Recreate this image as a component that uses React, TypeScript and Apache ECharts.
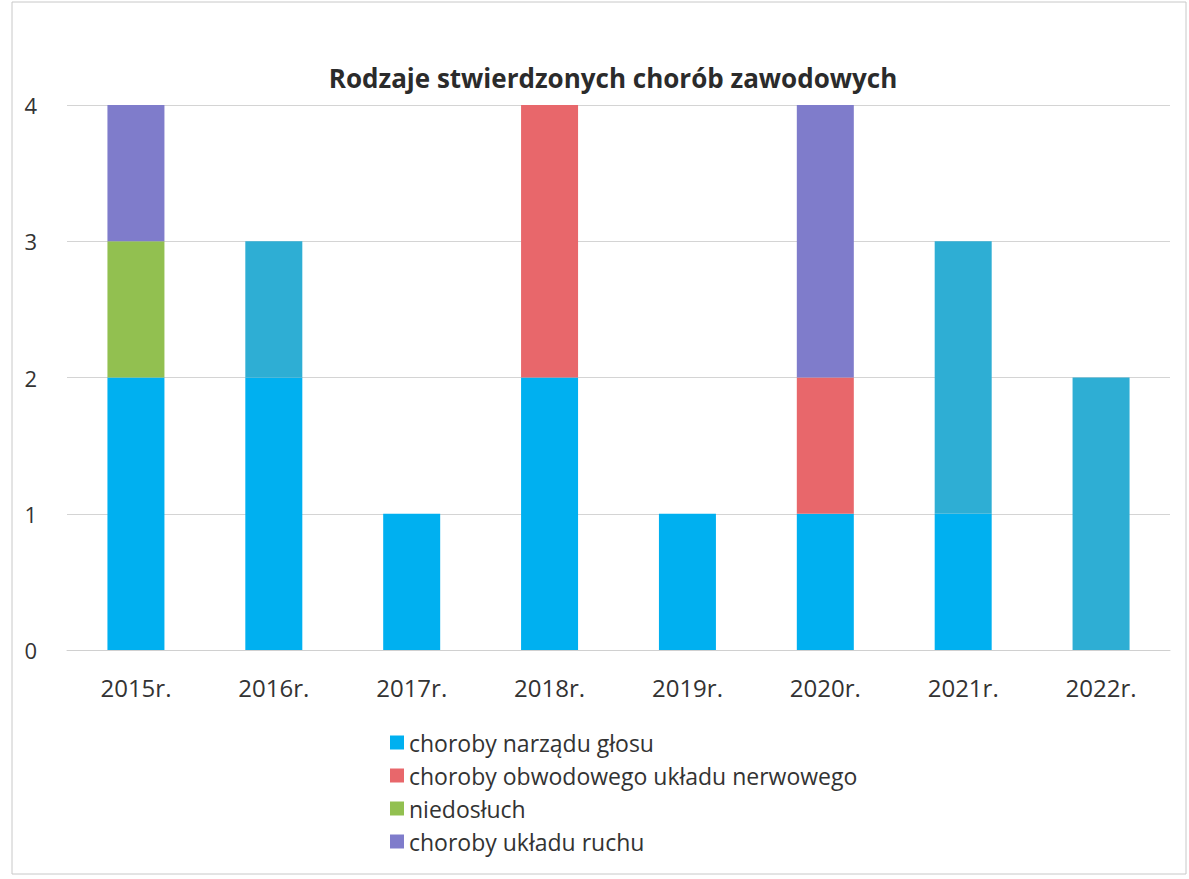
import React, { useEffect, useRef } from "react";
import * as echarts from "echarts";

const categories = ["2015r.", "2016r.", "2017r.", "2018r.", "2019r.", "2020r.", "2021r.", "2022r."];
const glosu = [2, 2, 1, 2, 1, 1, 1, 0];
const nerwowego = [0, 0, 0, 2, 0, 1, 0, 0];
const niedosluch = [1, 0, 0, 0, 0, 0, 0, 0];
const ruchu = [1, 0, 0, 0, 0, 2, 0, 0];
const inne = [0, 1, 0, 0, 0, 0, 2, 2];
const yTicks = [0, 1, 2, 3, 4];

const legendNames = [
  "choroby narządu głosu",
  "choroby obwodowego układu nerwowego",
  "niedosłuch",
  "choroby układu ruchu",
];

export default function App() {
  const ref = useRef<HTMLDivElement>(null);
  useEffect(() => {
    if (!ref.current) return;
    const chart = echarts.init(ref.current, null, { renderer: "svg" });
    const font = "'Open Sans', 'Liberation Sans', sans-serif";
    const mk = (name: string, data: number[], color: string) => ({
      name,
      type: "bar",
      stack: "s",
      data,
      barWidth: 57,
      itemStyle: { color },
    });
    chart.setOption({
      animation: false,
      backgroundColor: "#ffffff",
      title: {
        text: "Rodzaje stwierdzonych chorób zawodowych",
        left: 608,
        textAlign: "center",
        top: 60,
        textStyle: { fontFamily: font, fontWeight: "bold", fontSize: 26, color: "#2b2b2b" },
      },
      grid: { left: 67, right: 19, top: 105, bottom: 229 },
      xAxis: {
        type: "category",
        data: categories,
        axisLine: { show: true, lineStyle: { color: "#d0d0d0" } },
        axisTick: { show: false },
        axisLabel: { fontFamily: font, fontSize: 24, color: "#333", margin: 25 },
      },
      yAxis: {
        type: "value",
        min: yTicks[0],
        max: yTicks[yTicks.length - 1],
        interval: 1,
        axisLine: { show: false },
        axisTick: { show: false },
        splitLine: { lineStyle: { color: "#d4d4d4" } },
        axisLabel: { fontFamily: font, fontSize: 22, color: "#333", margin: 30 },
      },
      legend: {
        data: legendNames,
        orient: "vertical",
        left: 385,
        top: 726,
        itemWidth: 14,
        itemHeight: 14,
        itemGap: 10,
        icon: "rect",
        textStyle: { fontFamily: font, fontSize: 23, color: "#333" },
      },
      graphic: [
        {
          type: "rect",
          shape: { x: 12, y: 2, width: 1174, height: 872 },
          style: { fill: "none", stroke: "#c8c8c8", lineWidth: 1 },
          silent: true,
        },
      ],
      series: [
        mk(legendNames[0], glosu, "#00b0f0"),
        mk(legendNames[1], nerwowego, "#e8676b"),
        mk(legendNames[2], niedosluch, "#92c050"),
        mk(legendNames[3], ruchu, "#7f7ccb"),
        mk("inne", inne, "#2eaed4"),
      ],
    });
    return () => chart.dispose();
  }, []);
  return (
    <div
      ref={ref}
      style={{ position: "absolute", left: 0, top: 0, width: 1189, height: 879 }}
    />
  );
}
